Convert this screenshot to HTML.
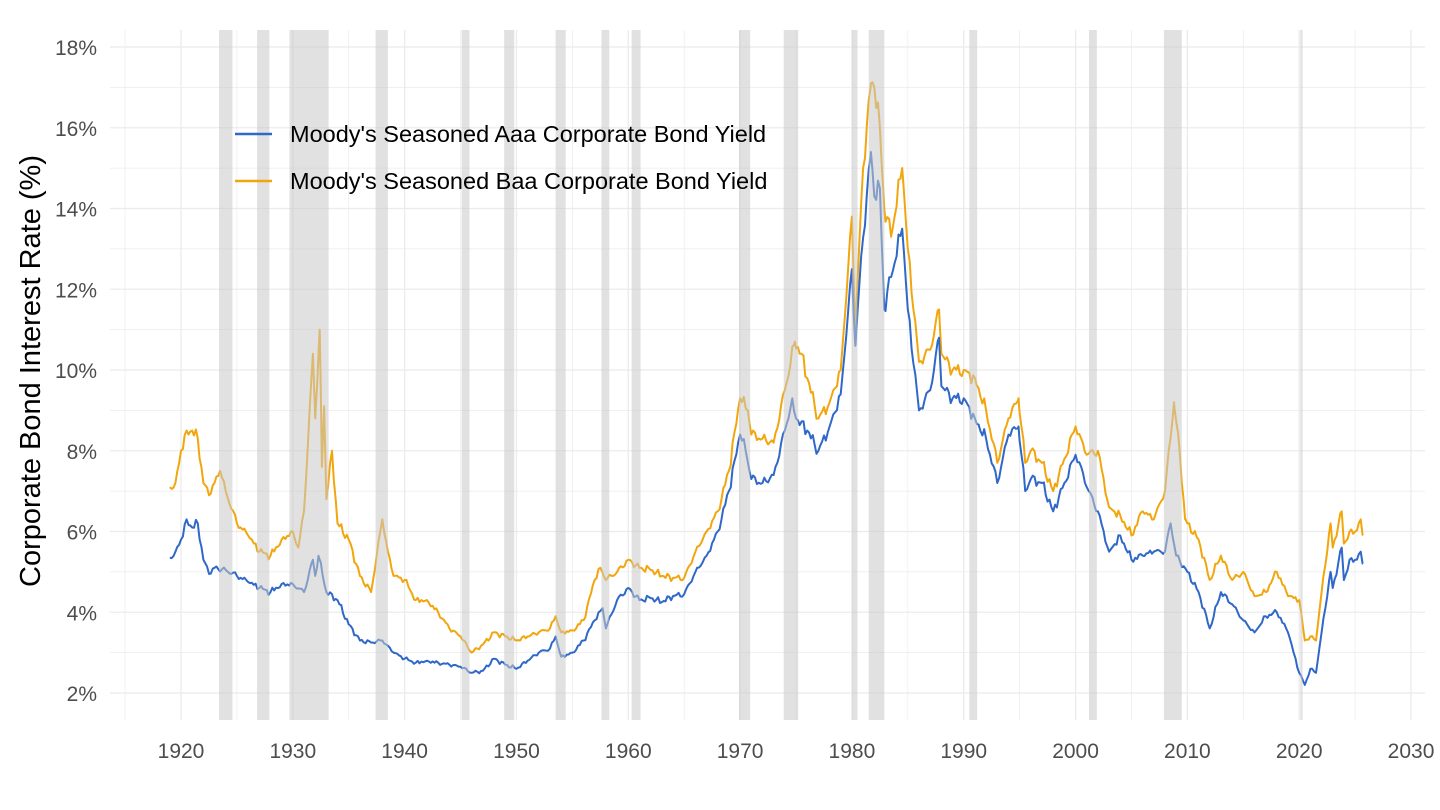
<!DOCTYPE html>
<html><head><meta charset="utf-8"><style>
html,body{margin:0;padding:0;background:#fff;}
svg{display:block;font-family:"Liberation Sans",sans-serif;}
</style></head><body>
<svg id="c" width="1440" height="810" xmlns="http://www.w3.org/2000/svg">
<g id="grid"></g>
<g id="lines"></g>
<g id="rec"></g>
<g id="labels" fill="#4d4d4d" font-size="21"></g>
<text transform="translate(40,371) rotate(-90)" text-anchor="middle" font-size="29" fill="#000">Corporate Bond Interest Rate (%)</text>
<line x1="235" y1="134" x2="272" y2="134" stroke="#2f68c8" stroke-width="2.4"/>
<text x="290" y="142" font-size="23.5" fill="#000">Moody's Seasoned Aaa Corporate Bond Yield</text>
<line x1="235" y1="181" x2="272" y2="181" stroke="#f2a60d" stroke-width="2.4"/>
<text x="290" y="189" font-size="23.5" fill="#000">Moody's Seasoned Baa Corporate Bond Yield</text>
</svg>
<script>
const NS="http://www.w3.org/2000/svg";
const X=y=>181+(y-1920)*11.182, Y=v=>693-(v-2)*40.375;
function el(p,t,a,txt){const e=document.createElementNS(NS,t);for(const k in a)e.setAttribute(k,a[k]);if(txt!==undefined)e.textContent=txt;document.getElementById(p).appendChild(e);return e;}
for(let v=2;v<=18.5;v+=1){el('grid','line',{x1:110,x2:1425,y1:Y(v),y2:Y(v),stroke:'#ebebeb','stroke-width':v%2==0?1.3:0.7});}
for(let y=1915;y<=2030;y+=5){el('grid','line',{x1:X(y),x2:X(y),y1:30,y2:720,stroke:'#ebebeb','stroke-width':y%10==0?1.3:0.7});}
for(let v=2;v<=18;v+=2)el('labels','text',{x:97,y:Y(v)+8,'text-anchor':'end'},v+'%');
for(let y=1920;y<=2030;y+=10)el('labels','text',{x:X(y),y:758,'text-anchor':'middle'},y);
const aaa=[1919,5.35,1919.5,5.5,1920,5.8,1920.5,6.3,1921,6.1,1921.5,6.2,1922,5.3,1922.5,4.95,1923,5.1,1924,5.05,1925,4.9,1926,4.75,1927,4.6,1928,4.5,1929,4.7,1930,4.7,1931,4.5,1931.8,5.3,1932,4.9,1932.3,5.4,1933,4.5,1934,4.3,1935,3.7,1936,3.3,1937,3.25,1938,3.3,1939,3.0,1940,2.85,1941,2.75,1942,2.8,1943,2.75,1944,2.7,1945,2.65,1946,2.5,1947,2.55,1948,2.85,1949,2.7,1950,2.6,1951,2.8,1952,3.0,1953,3.1,1953.5,3.4,1954,2.9,1955,3.0,1956,3.3,1957,3.8,1957.7,4.1,1958,3.6,1959,4.3,1960,4.6,1961,4.3,1962,4.35,1963,4.25,1964,4.4,1965,4.45,1966,5.0,1967,5.4,1968,6.0,1969,7.0,1970,8.4,1970.5,8.0,1971,7.3,1972,7.2,1973,7.4,1974,8.5,1974.6,9.2,1975,8.8,1976,8.5,1977,8.0,1978,8.6,1979,9.4,1980,12.5,1980.3,10.6,1980.9,13.0,1981.7,15.4,1982,14.3,1982.5,14.5,1982.9,11.5,1983.5,12.3,1984.5,13.5,1985,11.5,1986,9.0,1987,9.5,1987.8,10.8,1988,9.6,1989,9.3,1990,9.3,1991,8.8,1992,8.3,1993,7.2,1994,8.4,1994.9,8.6,1995.5,7.0,1996,7.3,1997,7.2,1998,6.5,1999,7.2,2000,7.9,2000.5,7.6,2001,7.1,2002,6.5,2003,5.5,2004,5.9,2005,5.3,2006,5.4,2007,5.5,2008,5.5,2008.5,6.2,2009,5.4,2010,5.0,2011,4.5,2012,3.6,2013,4.5,2014,4.2,2015,3.8,2016,3.5,2017,3.9,2018,4.0,2019,3.5,2020,2.5,2020.5,2.2,2021,2.6,2021.5,2.5,2022,3.5,2022.8,5.0,2023,4.6,2023.8,5.6,2024,4.8,2024.5,5.3,2025,5.3,2025.5,5.5,2025.7,5.2];
const baa=[1919,7.1,1919.5,7.2,1920,8.0,1920.5,8.5,1921,8.5,1921.5,8.3,1922,7.2,1922.5,6.9,1923,7.2,1923.5,7.5,1924,7.0,1925,6.2,1926,5.9,1927,5.5,1928,5.4,1929,5.8,1930,6.0,1930.5,5.6,1931,6.5,1931.8,10.4,1932,8.8,1932.4,11.0,1932.6,7.6,1932.8,9.1,1933,6.8,1933.5,8.0,1934,6.2,1935,5.8,1936,4.9,1937,4.5,1938,6.3,1938.5,5.5,1939,4.9,1940,4.8,1941,4.3,1942,4.3,1943,4.0,1944,3.6,1945,3.4,1946,3.0,1947,3.2,1948,3.5,1949,3.4,1950,3.3,1951,3.4,1952,3.5,1953,3.6,1953.5,3.9,1954,3.5,1955,3.55,1956,3.8,1957,4.8,1957.5,5.1,1958,4.8,1959,5.0,1960,5.3,1961,5.1,1962,5.05,1963,4.9,1964,4.85,1965,4.85,1966,5.5,1967,6.0,1968,6.5,1969,7.5,1970,9.3,1970.7,9.0,1971,8.4,1972,8.3,1973,8.2,1974,9.5,1974.9,10.7,1975.5,10.4,1976,9.8,1977,8.8,1978,9.2,1979,10.0,1980,13.8,1980.3,11.0,1981,15.0,1981.7,17.1,1982,17.0,1982.5,16.0,1982.9,14.0,1983.5,13.3,1984.5,15.0,1985,13.0,1986,10.2,1987,10.5,1987.8,11.5,1988,10.4,1989,10.0,1990,10.0,1991,9.8,1992,9.0,1993,7.7,1994,8.8,1994.9,9.3,1995.5,7.7,1996,8.0,1997,7.7,1998,7.0,1999,7.8,2000,8.6,2000.5,8.3,2001,7.9,2002,8.0,2003,6.6,2004,6.4,2005,5.9,2006,6.5,2007,6.3,2008,7.0,2008.8,9.2,2009.3,8.0,2009.8,6.3,2010,6.2,2011,5.8,2012,4.8,2013,5.4,2014,4.8,2015,5.0,2016,4.4,2017,4.5,2018,5.0,2019,4.4,2020,4.3,2020.5,3.3,2021,3.4,2021.5,3.3,2022,4.5,2022.8,6.2,2023,5.6,2023.8,6.5,2024,5.7,2024.5,6.0,2025,6.0,2025.5,6.3,2025.7,5.9];
function interp(d,t){for(let i=0;i<d.length-2;i+=2){if(t<=d[i+2]){const f=(t-d[i])/(d[i+2]-d[i]);return d[i+1]+f*(d[i+3]-d[i+1]);}}return d[d.length-1];}
function noise(t){return Math.sin(t*7.3)*0.5+Math.sin(t*13.1+1.7)*0.35+Math.sin(t*23.7+0.4)*0.25;}
function path(d,col,k){let s='';let first=true;const pts=[];for(let i=0;i<d.length;i+=2)pts.push(d[i]);
 const ts=new Set(pts);for(let t=d[0];t<d[d.length-2];t+=1/6)ts.add(+t.toFixed(3));
 const arr=[...ts].sort((a,b)=>a-b);
 arr.forEach(t=>{let v=interp(d,t);if(!pts.includes(t))v+=noise(t)*k*v/6;s+=(first?'M':'L')+X(t).toFixed(1)+','+Y(v).toFixed(1);first=false;});
 el('lines','path',{d:s,fill:'none',stroke:col,'stroke-width':2,'stroke-linejoin':'round'});}
path(baa,'#f2a60d',0.12);path(aaa,'#2f68c8',0.12);
const R=[[1923.4,1924.6],[1926.8,1927.9],[1929.7,1933.2],[1937.4,1938.5],[1945.1,1945.8],[1948.9,1949.8],[1953.5,1954.4],[1957.6,1958.3],[1960.3,1961.1],[1969.9,1970.9],[1973.9,1975.2],[1980.0,1980.5],[1981.5,1982.9],[1990.5,1991.2],[2001.2,2001.9],[2007.9,2009.5],[2020.1,2020.3]];
R.forEach(r=>el('rec','rect',{x:X(r[0]),y:30,width:X(r[1])-X(r[0]),height:690,fill:'#c8c8c8','fill-opacity':0.55}));
</script>
</body></html>
